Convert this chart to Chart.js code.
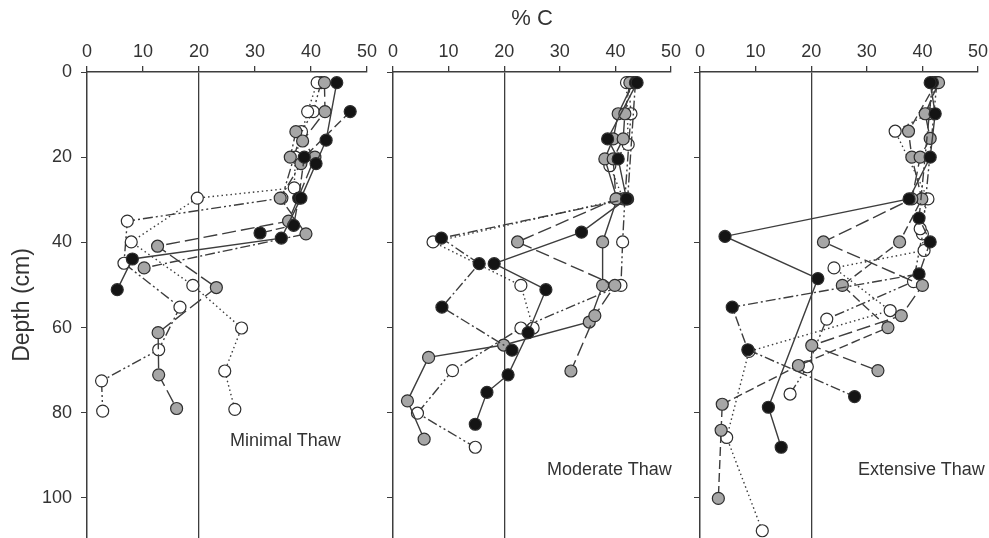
<!DOCTYPE html>
<html>
<head>
<meta charset="utf-8">
<script src="https://cdn.jsdelivr.net/npm/chart.js@4.4.0/dist/chart.umd.min.js"></script>
<style>
body { margin:0; background:#fff; width:989px; height:538px; overflow:hidden; position:relative; font-family:Arial,"Liberation Sans",sans-serif; }
canvas { position:absolute; top:0; }
.lbl { position:absolute; font-size:18px; color:#333; white-space:nowrap; line-height:18px; }
</style>
</head>
<body>
<canvas id="c1" width="380" height="538" style="left:0px"></canvas>
<canvas id="c2" width="306" height="538" style="left:380px"></canvas>
<canvas id="c3" width="303" height="538" style="left:686px"></canvas>
<div class="lbl" style="left:230px;top:431px">Minimal Thaw</div>
<div class="lbl" style="left:547px;top:460px">Moderate Thaw</div>
<div class="lbl" style="left:858px;top:460px">Extensive Thaw</div>
<script>
// axis ticks
const tickC = [0, 10, 20, 30, 40, 50];
const tickDepth = [0, 20, 40, 60, 80, 100];

// Minimal thaw  (C = %C, D = depth cm)
const minB1C = [44.6, 42.7, 40.9, 38.2, 34.7, 8.1, 5.4];
const minB1D = [2.5, 16, 21.5, 29.6, 39, 43.9, 51.1];
const minB2C = [47.0, 38.8, 37.8, 36.9, 30.9];
const minB2D = [9.3, 20, 29.6, 36, 37.8];
const minG1C = [42.4, 42.5, 38.5, 40.7, 36.0, 12.6, 23.1, 12.7, 12.8, 16.0];
const minG1D = [2.5, 9.3, 16.2, 20, 35, 40.9, 50.6, 61.2, 71.1, 79];
const minG2C = [37.3, 36.3, 38.2, 34.5, 39.1, 10.2];
const minG2D = [14, 20, 21.5, 29.6, 38, 46];
const minW1C = [41.1, 39.4, 37.2, 37.0, 19.7, 7.9, 18.9, 27.6, 24.6, 26.4];
const minW1D = [2.5, 9.3, 20, 27.2, 29.6, 39.9, 50.1, 60.1, 70.2, 79.2];
const minW2C = [41.8, 40.4, 38.3, 34.8, 7.2, 6.6, 16.6, 12.8, 2.6, 2.8];
const minW2D = [2.5, 9.3, 14, 29.6, 35, 44.9, 55.2, 65.2, 72.5, 79.6];

// Moderate thaw
const modB1C = [43.9, 38.6, 40.5, 42.0, 33.9, 18.2, 27.5, 24.3, 20.7, 16.9, 14.8];
const modB1D = [2.5, 15.7, 20.4, 29.8, 37.6, 45.0, 51.1, 61.2, 71.1, 75.2, 82.7];
const modB2C = [43.6, 42.2, 8.7, 15.5, 8.8, 21.4];
const modB2D = [2.5, 29.8, 39.0, 45.0, 55.2, 65.3];
const modG1C = [42.6, 41.7, 41.4, 39.6, 40.1, 22.4, 39.9, 36.3, 32.0];
const modG1D = [2.5, 9.8, 15.7, 20.4, 29.8, 39.9, 50.1, 57.2, 70.2];
const modG2C = [43.2, 40.5, 39.6, 38.1, 40.3, 37.7, 37.7, 35.3, 19.9, 6.4, 2.6, 5.6];
const modG2D = [2.5, 9.8, 15.7, 20.4, 29.8, 39.9, 50.1, 58.7, 64.1, 67.0, 77.2, 86.2];
const modW1C = [42.0, 42.3, 39.0, 41.4, 7.2, 23.0, 25.2];
const modW1D = [2.5, 17.0, 22.0, 29.8, 39.9, 50.1, 60.1];
const modW2C = [42.4, 42.8, 41.7, 41.3, 41.0, 23.0, 10.7, 4.4, 14.8];
const modW2D = [2.5, 9.8, 29.8, 39.9, 50.1, 60.1, 70.1, 80.1, 88.1];

// Extensive thaw
const extB1C = [41.4, 42.3, 41.4, 37.6, 4.5, 21.2, 12.3, 14.6];
const extB1D = [2.5, 9.8, 20.0, 29.8, 38.6, 48.5, 78.7, 88.1];
const extB2C = [41.8, 39.4, 41.4, 39.4, 5.8, 8.6, 27.8];
const extB2D = [2.5, 34.3, 39.9, 47.4, 55.2, 65.2, 76.2];
const extG1C = [42.9, 40.5, 41.4, 39.6, 38.1, 22.2, 40.0, 36.2, 20.1, 32.0];
const extG1D = [2.5, 9.8, 15.6, 20.0, 29.8, 39.9, 50.1, 57.2, 64.2, 70.1];
const extG2C = [42.5, 37.5, 38.1, 39.9, 35.9, 25.6, 33.8, 17.7, 4.0, 3.8, 3.3];
const extG2D = [2.5, 13.9, 20.0, 29.8, 39.9, 50.1, 60.0, 68.9, 78.0, 84.1, 100.1];
const extW1C = [42.3, 41.1, 35.1, 41.0, 39.6, 40.3, 24.1, 34.2, 8.8, 4.8, 11.2];
const extW1D = [2.5, 9.8, 13.9, 29.8, 36.8, 41.9, 46.0, 56.0, 65.6, 85.8, 107.7];
const extW2C = [42.6, 40.0, 38.4, 22.8, 19.3, 16.2];
const extW2D = [2.5, 38.0, 49.2, 58.0, 69.2, 75.6];

const ink = '#3d3d3d';
const BLACK = '#141414', GRAY = '#a6a6a6', WHITE = '#ffffff';
const solid = [], dashed = [9, 4], longDash = [14, 5], dashDot = [10, 3, 2, 3], dotted = [1.5, 3], dashDotDot = [10, 3, 2, 3, 2, 3];

function series(c, d, fill, dash) {
    return {
        data: c.map((v, i) => ({ x: v, y: d[i] })),
        showLine: true,
        borderColor: ink,
        borderWidth: 1.4,
        borderDash: dash,
        tension: 0,
        pointRadius: 6,
        pointBackgroundColor: fill,
        pointBorderColor: '#2e2e2e',
        pointBorderWidth: 1.2,
        clip: false
    };
}

function makePanel(id, datasets, yWidth, padRight, first, xTitle) {
    new Chart(document.getElementById(id), {
        type: 'scatter',
        data: { datasets: datasets },
        options: {
            responsive: false,
            animation: false,
            devicePixelRatio: 1,
            layout: { autoPadding: false, padding: { left: 0, right: padRight, top: 0, bottom: 0 } },
            plugins: { legend: { display: false }, tooltip: { enabled: false } },
            scales: {
                x: {
                    type: 'linear',
                    position: 'top',
                    min: 0,
                    max: 50,
                    afterBuildTicks: s => { s.ticks = tickC.map(v => ({ value: v })); },
                    afterFit: s => { s.height = 72; s.paddingLeft = 0; s.paddingRight = 0; },
                    grid: {
                        color: c => (c.tick && c.tick.value === 20) ? ink : 'rgba(0,0,0,0)',
                        lineWidth: 1.3,
                        tickColor: ink,
                        tickLength: 6
                    },
                    border: { color: ink, width: 1.5 },
                    ticks: { font: { size: 18, family: 'Arial' }, color: '#333', padding: 3, maxRotation: 0 },
                    title: {
                        display: !!xTitle,
                        text: xTitle || '',
                        font: { size: 22, family: 'Arial' },
                        color: '#333',
                        padding: { top: 6, bottom: 0 }
                    }
                },
                y: {
                    type: 'linear',
                    reverse: true,
                    min: 0,
                    max: 109.4,
                    afterBuildTicks: s => { s.ticks = tickDepth.map(v => ({ value: v })); },
                    afterFit: s => { s.width = yWidth; s.paddingTop = 0; s.paddingBottom = 0; },
                    grid: { drawOnChartArea: false, tickColor: ink, tickLength: 6 },
                    border: { color: ink, width: 1.5 },
                    ticks: { display: first, font: { size: 18, family: 'Arial' }, color: '#333', padding: 9 },
                    title: {
                        display: first,
                        text: 'Depth (cm)',
                        font: { size: 23, family: 'Arial' },
                        color: '#333',
                        padding: { top: 9, bottom: 0 }
                    }
                }
            }
        }
    });
}

makePanel('c1', [
    series(minB1C, minB1D, BLACK, solid),
    series(minB2C, minB2D, BLACK, dashed),
    series(minG1C, minG1D, GRAY, longDash),
    series(minG2C, minG2D, GRAY, dashDot),
    series(minW1C, minW1D, WHITE, dotted),
    series(minW2C, minW2D, WHITE, dashDotDot)
], 87, 13, true, null);

makePanel('c2', [
    series(modB1C, modB1D, BLACK, solid),
    series(modB2C, modB2D, BLACK, dashDot),
    series(modG1C, modG1D, GRAY, longDash),
    series(modG2C, modG2D, GRAY, solid),
    series(modW1C, modW1D, WHITE, dotted),
    series(modW2C, modW2D, WHITE, dashDotDot)
], 13, 15, false, '% C');

makePanel('c3', [
    series(extB1C, extB1D, BLACK, solid),
    series(extB2C, extB2D, BLACK, dashDot),
    series(extG1C, extG1D, GRAY, longDash),
    series(extG2C, extG2D, GRAY, dashed),
    series(extW1C, extW1D, WHITE, dotted),
    series(extW2C, extW2D, WHITE, dashDotDot)
], 14, 11, false, null);
</script>
</body>
</html>
